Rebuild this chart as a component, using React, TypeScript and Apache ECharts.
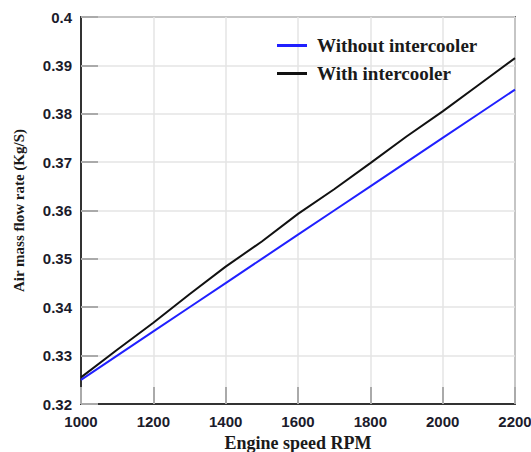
import React, { useEffect, useRef } from "react";
import * as echarts from "echarts";

const rpm = [1000, 1100, 1200, 1300, 1400, 1500, 1600, 1700, 1800, 1900, 2000, 2100, 2200];
const withoutIntercooler = [0.325, 0.33, 0.335, 0.34, 0.345, 0.35, 0.355, 0.36, 0.365, 0.37, 0.375, 0.38, 0.385];
const withIntercooler = [0.3255, 0.3312, 0.3368, 0.3427, 0.3484, 0.3536, 0.3593, 0.3644, 0.3698, 0.3753, 0.3805, 0.386, 0.3915];
const seriesNames = ["Without intercooler", "With intercooler"];

export default function App() {
  const ref = useRef<HTMLDivElement>(null);
  useEffect(() => {
    if (!ref.current) return;
    const chart = echarts.init(ref.current, undefined, { renderer: "svg" });
    const tickLabel = {
      fontFamily: "Liberation Sans",
      fontWeight: "bold" as const,
      fontSize: 15,
      color: "#1b1b2b",
    };
    chart.setOption({
      animation: false,
      backgroundColor: "#fff",
      grid: {
        left: 81,
        right: 16,
        top: 17,
        bottom: 48,
        outerBoundsMode: "none",
        containLabel: false,
        show: true,
        borderColor: "#6a6a6a",
        borderWidth: 2,
      },
      legend: {
        left: 277,
        top: 36,
        padding: 0,
        orient: "vertical",
        icon: "rect",
        itemWidth: 30,
        itemHeight: 3,
        itemGap: 9,
        textStyle: {
          fontFamily: "Liberation Serif",
          fontWeight: "bold",
          fontSize: 19,
          color: "#1a1a1a",
          padding: [0, 0, 0, 5],
        },
        data: seriesNames,
      },
      xAxis: {
        type: "value",
        min: 1000,
        max: 2200,
        interval: 200,
        name: "Engine speed RPM",
        nameLocation: "middle",
        nameGap: 24,
        nameTextStyle: {
          fontFamily: "Liberation Serif",
          fontWeight: "bold",
          fontSize: 18,
          color: "#1a1a1a",
        },
        axisLine: { show: true, lineStyle: { color: "#333", width: 2 } },
        axisTick: { show: true, inside: true, length: 17, lineStyle: { color: "#aaa", width: 2 } },
        axisLabel: { ...tickLabel, margin: 10, formatter: (v: number) => String(v) },
        splitLine: { show: true, lineStyle: { color: "#e4e4e4", width: 1.5 } },
      },
      yAxis: {
        type: "value",
        min: 0.32,
        max: 0.4,
        interval: 0.01,
        name: "Air mass flow rate (Kg/S)",
        nameLocation: "middle",
        nameGap: 55,
        nameTextStyle: {
          fontFamily: "Liberation Serif",
          fontWeight: "bold",
          fontSize: 15,
          color: "#1a1a1a",
        },
        axisLine: { show: true, lineStyle: { color: "#333", width: 2 } },
        axisTick: { show: true, inside: true, length: 17, lineStyle: { color: "#aaa", width: 2 } },
        axisLabel: { ...tickLabel, margin: 9 },
        splitLine: { show: true, lineStyle: { color: "#e4e4e4", width: 1.5 } },
      },
      series: [
        {
          name: seriesNames[0],
          type: "line",
          symbol: "none",
          data: rpm.map((x, i) => [x, withoutIntercooler[i]]),
          lineStyle: { color: "#2020ff", width: 2 },
          itemStyle: { color: "#2020ff" },
        },
        {
          name: seriesNames[1],
          type: "line",
          symbol: "none",
          data: rpm.map((x, i) => [x, withIntercooler[i]]),
          lineStyle: { color: "#111", width: 2 },
          itemStyle: { color: "#111" },
        },
      ],
    });
    return () => chart.dispose();
  }, []);
  return <div ref={ref} style={{ width: 531, height: 452, position: "absolute", left: 0, top: 0 }} />;
}
